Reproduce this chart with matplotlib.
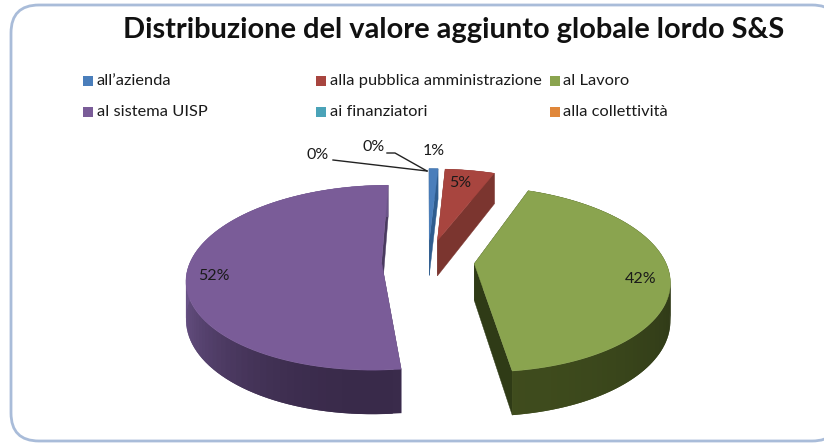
import numpy as np
import matplotlib
matplotlib.use("Agg")
import matplotlib.pyplot as plt
from matplotlib.patches import FancyBboxPatch, Polygon, Rectangle
from matplotlib.colors import to_rgb

title = "Distribuzione del valore aggiunto globale lordo S&S"
categories = ["all’azienda", "alla pubblica amministrazione", "al Lavoro",
              "al sistema UISP", "ai finanziatori", "alla collettività"]
shares = [0.9, 5.0, 42.1, 52.0, 0.0, 0.0]
colors = ["#4a7ebb", "#a8453f", "#8aa44f", "#7a5c98", "#4aa3b8", "#e0873a"]
rim_from = ["#2f5d8f", "#7b352f", "#2e3817", "#6b5489", "#2f7a8c", "#a8602a"]
rim_to = ["#2f5d8f", "#7b352f", "#3f4c1d", "#392a4a", "#2f7a8c", "#a8602a"]
side = ["#2f5d8f", "#7b352f", "#2f3b16", "#4a3a60", "#2f7a8c", "#a8602a"]

plt.rcParams["font.family"] = ["Lato", "DejaVu Sans"]
fig = plt.figure(figsize=(8.24, 4.44), dpi=100)
ax = fig.add_axes([0, 0, 1, 1])
ax.set_xlim(0, 824)
ax.set_ylim(444, 0)
ax.axis("off")

ax.add_patch(FancyBboxPatch((11, 5), 829, 436, boxstyle="round,pad=0,rounding_size=28",
                            fc="white", ec="#a9bcd9", lw=2, clip_on=True))
ax.text(454, 30, title, ha="center", va="center", fontsize=20.9, fontweight="bold", color="#111111")

# legend
legend_x = [(83, 97), (316, 330), (550, 563)]
legend_y = [81, 112]
for i, (name, col) in enumerate(zip(categories, colors)):
    mx, tx = legend_x[i % 3]
    y = legend_y[i // 3]
    ax.add_patch(Rectangle((mx, y - 5), 10, 10, fc=col, ec="none"))
    ax.text(tx, y, name, ha="left", va="center", fontsize=11.8, color="#1a1a1a")

# perspective pie
CX, CY, RX, RY, K, H, EXPLODE = 428, 261, 191, 89.5, 0.165, 36.7, 0.243


def project(u, v, drop=0.0):
    s = 1 / (1 - K * v)
    return CX + RX * u * s, CY + RY * v * s + drop * H * s


def mix(a, b, t):
    a, b = np.array(to_rgb(a)), np.array(to_rgb(b))
    return tuple(a + (b - a) * t)


edges = np.concatenate([[0], np.cumsum(shares)]) / sum(shares) * 2 * np.pi
order = [1, 0, 3, 2]
for i in order:
    a0, a1 = edges[i], edges[i + 1]
    mid = (a0 + a1) / 2
    ou, ov = EXPLODE * np.sin(mid), -EXPLODE * np.cos(mid)
    th = np.linspace(a0, a1, 90)
    us, vs = ou + np.sin(th), ov - np.cos(th)
    # radial side walls
    for a in (a0, a1):
        p = [project(ou, ov), project(ou + np.sin(a), ov - np.cos(a)),
             project(ou + np.sin(a), ov - np.cos(a), 1), project(ou, ov, 1)]
        ax.add_patch(Polygon(p, fc=side[i], ec=side[i], lw=0.3))
    # outer rim: overlapping strips, so no seams show through
    for j in range(len(th) - 1):
        frac = np.clip(-np.cos(th[j]), 0, 1)
        c = mix(rim_from[i], rim_to[i], frac ** 1.6)
        k = min(j + 2, len(th) - 1)
        p = [project(us[j], vs[j]), project(us[k], vs[k]),
             project(us[k], vs[k], 1), project(us[j], vs[j], 1)]
        ax.add_patch(Polygon(p, fc=c, ec="none"))
    top = [project(ou, ov)] + [project(a, b) for a, b in zip(us, vs)]
    ax.add_patch(Polygon(top, fc=colors[i], ec=colors[i], lw=0.3))

# data labels
label_pos = [(434, 151), (460, 183), (641, 279), (214, 276), (318, 155), (374, 147)]
for val, (x, y) in zip(shares, label_pos):
    ax.text(x, y, f"{round(val)}%", ha="center", va="center", fontsize=11.5, color="#1a1a1a")
ax.plot([333, 427], [160, 171], color="#222222", lw=1)
ax.plot([387, 395, 427], [153, 153, 171], color="#222222", lw=1)

fig.savefig("out.png", dpi=100)
